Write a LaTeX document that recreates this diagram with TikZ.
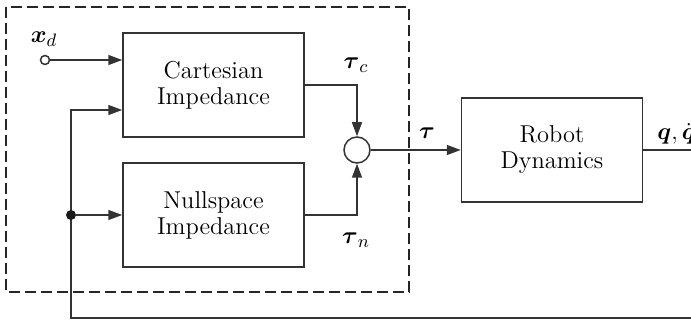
\documentclass[tikz,border=0pt]{standalone}
\usepackage{amsmath,amsbsy}
\usetikzlibrary{arrows.meta}
\begin{document}
\begin{tikzpicture}[x=0.5pt,y=-0.5pt,
  every node/.style={font=\fontsize{12.2}{13}\selectfont},
  blk/.style={draw=black!80,line width=0.75pt,rectangle,minimum width=90.5pt,minimum height=52pt,align=center,inner sep=0pt},
  arr/.style={draw=black!80,line width=0.75pt,-{Triangle[length=7pt,width=5pt]}},
  ln/.style={draw=black!80,line width=0.75pt},
  dbox/.style={draw=black!85,line width=0.7pt,dash pattern=on 5.5pt off 2.5pt}]
\useasboundingbox (0,0) rectangle (691,320);
% dashed controller boundary
\draw[dbox] (6,7) rectangle (409,292);
% blocks
\node[blk] (cart) at (213.5,85) {Cartesian\\Impedance};
\node[blk] (null) at (213.5,215) {Nullspace\\Impedance};
\node[blk] (rob) at (552,150) {Robot\\Dynamics};
\node[draw=black!80,line width=0.75pt,circle,minimum size=13pt,inner sep=0pt] (sum) at (357,150) {};
% input
\node[draw=black!80,line width=0.75pt,circle,fill=white,minimum size=4.5pt,inner sep=0pt] (xd) at (45,60) {};
\node (xdl) at (44,39) {$\boldsymbol{x}_d$};
\draw[arr] (xd) -- (xd -| cart.west);
% feedback
\coordinate (fbR) at (691,318);
\coordinate (fbL) at (71,318);
\coordinate (fbT) at (71,110);
\draw[arr] (fbR) -- (fbL) -- (fbT) -- (fbT -| cart.west);
\node[circle,fill=black!90,minimum size=5pt,inner sep=0pt] (jn) at (71,215) {};
\draw[arr] (jn) -- (null.west);
% to summing junction
\draw[arr] (cart.east) -| (sum.north);
\draw[arr] (null.east) -| (sum.south);
\node (tc) at (356,65) {$\boldsymbol{\tau}_c$};
\node (tn) at (356,240) {$\boldsymbol{\tau}_n$};
\draw[arr] (sum.east) -- (rob.west);
\node (tau) at (427,133) {$\boldsymbol{\tau}$};
% output
\coordinate (qout) at (691,150);
\draw[ln] (rob.east) -- (qout);
\node[anchor=west,inner sep=0pt] (ql) at (657,134) {$\boldsymbol{q},\dot{\boldsymbol{q}}$};
\end{tikzpicture}
\end{document}
